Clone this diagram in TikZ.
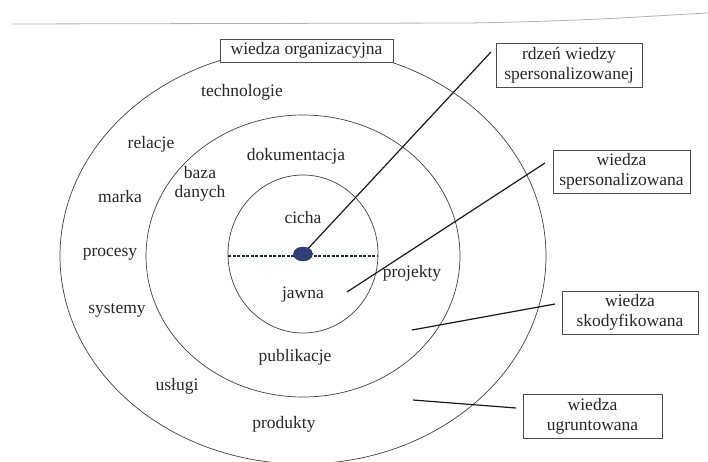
\documentclass[tikz,border=0pt]{standalone}
\usepackage{fontspec}
\setmainfont{Liberation Serif}
\usetikzlibrary{shapes.geometric, positioning, calc}

\begin{document}
\begin{tikzpicture}[x=1pt, y=-1pt,
    circ/.style={draw=black!75, line width=0.7pt},
    word/.style={text=black!85, font=\fontsize{17.5}{18}\selectfont, anchor=base, inner sep=0pt, align=center},
    tagbox/.style={draw=black!70, fill=white, text=black!85, font=\fontsize{17.5}{20}\selectfont, align=center, inner sep=1pt, line width=0.6pt},
    leader/.style={draw=black!90, line width=1.2pt}]
    \useasboundingbox (0,0) rectangle (708,462);
    \draw[black!30, line width=0.8pt] (12,24) -- (470,23) .. controls (590,21) and (650,16) .. (708,13);%page edge
    \coordinate (O) at (303,256);%common centre
    \draw[circ] (O) ellipse [x radius=243pt, y radius=208pt];%outer ring
    \draw[circ] (O) ellipse [x radius=157pt, y radius=141pt];%middle ring
    \draw[circ] ([yshift=2pt]O) ellipse [x radius=75pt, y radius=79pt];%inner ring
    \draw[draw={rgb,255:red,30;green,40;blue,75}, line width=2pt, dash pattern=on 3pt off 1.5pt] ([xshift=-75pt]O) -- ([xshift=75pt]O);%split line
    \node (core) [ellipse, draw={rgb,255:red,30;green,40;blue,75}, fill={rgb,255:red,45;green,65;blue,120}, minimum width=19pt, minimum height=14pt, inner sep=0pt] at ([yshift=2pt]O) {};%core dot
    % outer ring
    \node (tech) [word] at (242,97) {technologie};
    \node (rel) [word] at (151,149) {relacje};
    \node (mark) [word] at (120,203) {marka};
    \node (proc) [word] at (110,256) {procesy};
    \node (sys) [word] at (117,313) {systemy};
    \node (usl) [word] at (177,390) {usługi};
    \node (prod) [word] at (284,428) {produkty};
    % middle ring
    \node (dok) [word] at (296,161) {dokumentacja};
    \node (baza) [word] at (200,197) {baza\\danych};
    \node (proj) [word] at (412,277) {projekty};
    \node (pub) [word] at (295,361) {publikacje};
    % inner ring
    \node (cicha) [word] at (303,223) {cicha};
    \node (jawna) [word] at (303,298) {jawna};
    % boxes
    \node (org) [tagbox, minimum width=173pt, minimum height=23pt] at (306.5,50.5) {wiedza organizacyjna};
    \node (rdzen) [tagbox, minimum width=146pt, minimum height=44pt] at (569,65) {rdzeń wiedzy\\spersonalizowanej};
    \node (spers) [tagbox, minimum width=137pt, minimum height=43pt] at (621.5,171.5) {wiedza\\spersonalizowana};
    \node (skod) [tagbox, minimum width=136pt, minimum height=43pt] at (630,312.5) {wiedza\\skodyfikowana};
    \node (ugr) [tagbox, minimum width=139pt, minimum height=44pt] at (592.5,416) {wiedza\\ugruntowana};
    % leaders
    \coordinate (a1) at (491,52);
    \coordinate (b0) at (347,292);
    \coordinate (b1) at (545,163);
    \coordinate (c0) at (412,330);
    \coordinate (c1) at (555,304);
    \coordinate (d0) at (413,400);
    \coordinate (d1) at (516,408);
    \draw[leader] (core) -- (a1);
    \draw[leader] (b0) -- (b1);
    \draw[leader] (c0) -- (c1);
    \draw[leader] (d0) -- (d1);
\end{tikzpicture}
\end{document}
